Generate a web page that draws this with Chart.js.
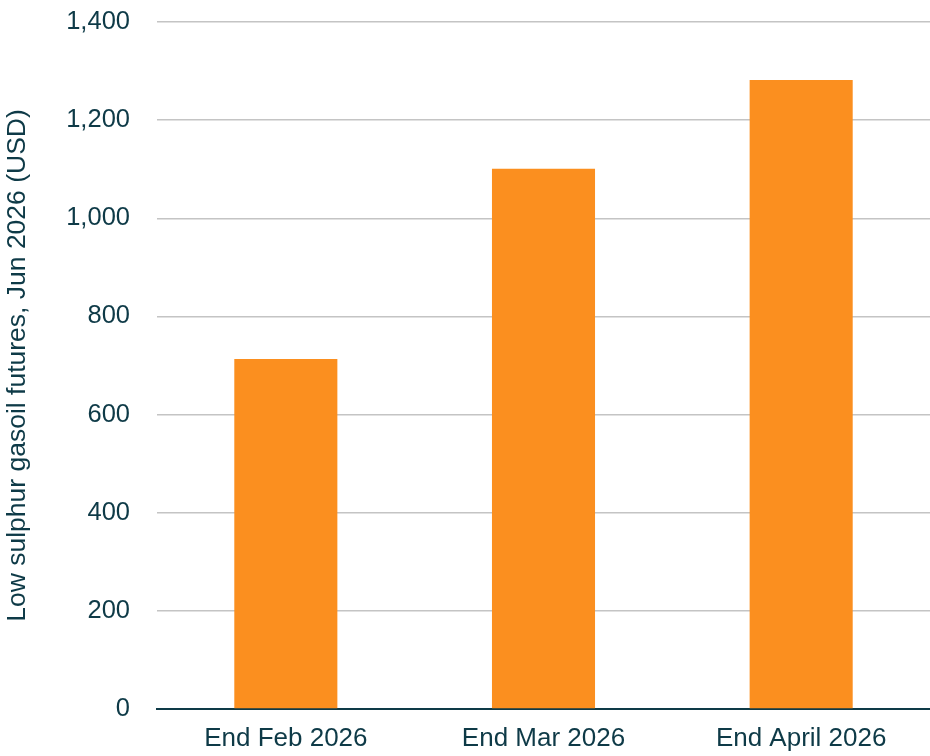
<!DOCTYPE html>
<html>
<head>
<meta charset="utf-8">
<script src="https://cdn.jsdelivr.net/npm/chart.js@4"></script>
<style>
  html, body { margin: 0; padding: 0; background: #ffffff; }
  #wrap { width: 930px; height: 756px; }
</style>
</head>
<body>
<div id="wrap"><canvas id="barChart" width="930" height="756"></canvas></div>
<script>
const categories = ['End Feb 2026', 'End Mar 2026', 'End April 2026'];
const gasoilPrices = [713, 1101, 1282];
const yTicks = [0, 200, 400, 600, 800, 1000, 1200, 1400];

const textColor = '#0e3a47';

document.addEventListener("DOMContentLoaded", () => {
    const ctx = document.getElementById('barChart').getContext('2d');

    new Chart(ctx, {
        type: 'bar',
        data: {
            labels: categories,
            datasets: [{
                label: 'Low sulphur gasoil futures',
                data: gasoilPrices,
                backgroundColor: '#fb8f1f',
                borderWidth: 0,
                categoryPercentage: 1,
                barPercentage: 0.4
            }]
        },
        options: {
            responsive: false,
            animation: false,
            layout: { padding: { top: 0, right: 0, left: 2, bottom: 0 } },
            scales: {
                x: {
                    grid: { display: false },
                    border: { display: true, color: textColor, width: 2 },
                    ticks: {
                        color: textColor,
                        font: { family: 'Liberation Sans', size: 26 },
                        padding: 6
                    },
                    afterFit: (scale) => { scale.height = 47; }
                },
                y: {
                    min: 0,
                    max: 1400,
                    afterBuildTicks: (scale) => {
                        scale.ticks = yTicks.map(v => ({ value: v }));
                    },
                    grid: {
                        color: '#c4c4c4',
                        lineWidth: 1.5,
                        drawTicks: false
                    },
                    border: { display: false },
                    ticks: {
                        color: textColor,
                        font: { family: 'Liberation Sans', size: 25.5 },
                        padding: 27,
                        callback: (v) => v.toLocaleString('en-US')
                    },
                    title: {
                        display: true,
                        text: 'Low sulphur gasoil futures, Jun 2026 (USD)',
                        color: textColor,
                        font: { family: 'Liberation Sans', size: 26.5 },
                        padding: 0
                    },
                    afterFit: (scale) => {
                        scale.width = 155;
                        scale.paddingTop = 22;
                        scale.paddingBottom = 0;
                    }
                }
            },
            plugins: {
                legend: { display: false },
                tooltip: { enabled: false }
            }
        }
    });
});
</script>
</body>
</html>
